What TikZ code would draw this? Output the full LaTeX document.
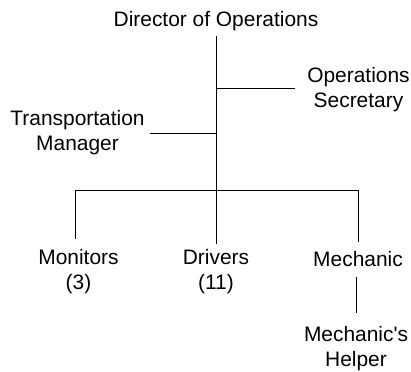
\documentclass[tikz,border=0pt]{standalone}
\usepackage{fontspec}
\setmainfont{Liberation Sans}
\begin{document}
\begin{tikzpicture}[x=1bp,y=-1bp,
		post/.style={font=\fontsize{21}{25}\selectfont, align=center, inner sep=0pt, outer sep=5bp, anchor=base},
		link/.style={line width=1bp}]
				\useasboundingbox (0,0) rectangle (411,372);

				% Director and staff
				\node[post] (dir) at (216,26.5) {Director of Operations};
				\node[post] (sec) at (358.5,107.7) {Operations\\Secretary};
				\node[post] (mgr) at (77.5,150) {Transportation\\Manager};
				\coordinate (secend) at (295,88);
				\coordinate (mgrend) at (150,133);

				% Crew
				\node[post] (mon) at (78.5,289) {Monitors\\(3)};
				\node[post] (drv) at (216,289) {Drivers\\(11)};
				\node[post] (mech) at (358,266.5) {Mechanic};
				\node[post] (hlp) at (356,366) {Mechanic\textquotesingle s\\Helper};
				\coordinate (monbus) at (75,190);
				\coordinate (mechbus) at (358,190);

				% Lines
				\draw[link] (dir.south) -- (drv.north);
				\draw[link] (secend -| dir.south) -- (secend);
				\draw[link] (mgrend) -- (mgrend -| dir.south);
				\draw[link, shorten <=5bp, shorten >=4bp] (mon.north -| monbus) -- (monbus) -- (mechbus) -- (mech.north -| mechbus);
				\draw[link, shorten <=5bp, shorten >=8bp] (hlp.north |- mech.south) -- (hlp.north);
			\end{tikzpicture}
\end{document}
